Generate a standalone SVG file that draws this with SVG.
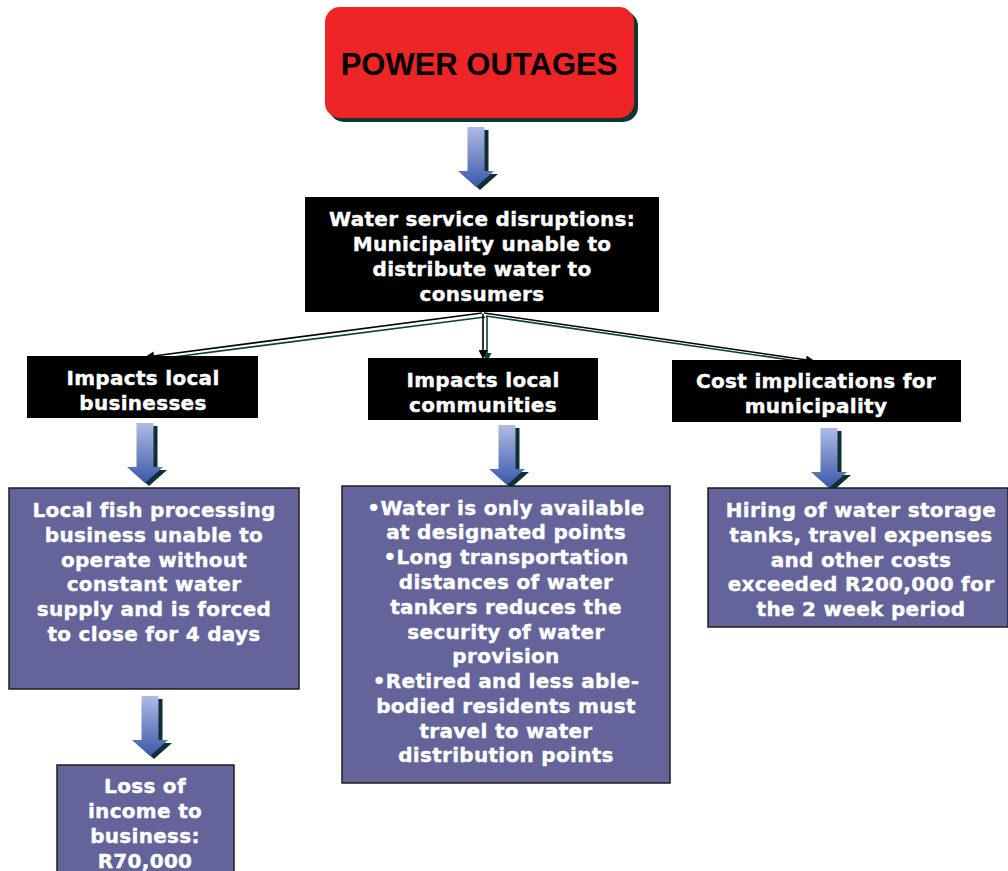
<svg xmlns="http://www.w3.org/2000/svg" xmlns:xlink="http://www.w3.org/1999/xlink" width="1008" height="871" viewBox="0 0 1008 871">
  <style>
    .t { font-family: "DejaVu Sans", Verdana, sans-serif; font-weight: bold; font-size: 20px; letter-spacing: 0.3px; fill: #ffffff; stroke: #ffffff; stroke-width: 0.4px; text-anchor: middle; }
    .blackbox { fill: #000000; }
    .purplebox { fill: #64649a; stroke: #1e1e1e; stroke-width: 1.5; }
    .ln { fill: none; stroke: #000000; stroke-width: 1.6; }
    .lns { fill: none; stroke: #0f3d3d; stroke-width: 1.6; }
  </style>
  <defs>
    <linearGradient id="arrowFill" x1="0" y1="0" x2="0" y2="1">
      <stop offset="0" stop-color="#aebbe4"/>
      <stop offset="1" stop-color="#3c58ab"/>
    </linearGradient>
    <g id="blockArrow">
      <path d="M-8.5,0 H8.5 V44 H18 L0,60 L-18,44 H-8.5 Z" fill="#0f3030" transform="translate(4,3)"/>
      <path d="M-8.5,0 H8.5 V44 H18 L0,60 L-18,44 H-8.5 Z" fill="url(#arrowFill)"/>
    </g>
    <marker id="headBlack" viewBox="0 0 10 10" refX="9" refY="5" markerWidth="10" markerHeight="9" markerUnits="userSpaceOnUse" orient="auto">
      <path d="M0,0 L10,5 L0,10 Z" fill="#000000"/>
    </marker>
    <marker id="headTeal" viewBox="0 0 10 10" refX="9" refY="5" markerWidth="10" markerHeight="9" markerUnits="userSpaceOnUse" orient="auto">
      <path d="M0,0 L10,5 L0,10 Z" fill="#0f3d3d"/>
    </marker>
  </defs>

  <rect width="1008" height="871" fill="#ffffff"/>

  <!-- top node -->
  <g id="power-outages">
    <rect x="329" y="11" width="309" height="111" rx="15" fill="#0f3535"/>
    <rect x="325" y="7" width="309" height="111" rx="15" fill="#ee2426"/>
    <text x="479" y="75" font-family="'Liberation Sans', Arial, sans-serif" font-weight="bold" font-size="31" text-anchor="middle" fill="#000000">POWER OUTAGES</text>
  </g>

  <!-- block arrows -->
  <g id="block-arrows">
    <use xlink:href="#blockArrow" transform="translate(476,127)"/>
    <use xlink:href="#blockArrow" transform="translate(145,423)"/>
    <use xlink:href="#blockArrow" transform="translate(507,425)"/>
    <use xlink:href="#blockArrow" transform="translate(829,428)"/>
    <use xlink:href="#blockArrow" transform="translate(150,696)"/>
  </g>

  <g id="water-disruptions">
    <rect class="blackbox" x="305" y="197" width="354" height="115"/>
    <text class="t"><tspan x="482" y="226">Water service disruptions:</tspan><tspan x="482" y="251">Municipality unable to</tspan><tspan x="482" y="276">distribute water to</tspan><tspan x="482" y="301">consumers</tspan></text>
  </g>

  <!-- connectors from the disruption box -->
  <g id="connectors">
    <line class="lns" x1="485" y1="317" x2="150" y2="360" marker-end="url(#headTeal)"/>
    <line class="ln" x1="482" y1="313" x2="146" y2="357" marker-end="url(#headBlack)"/>
    <line class="lns" x1="487" y1="316" x2="487" y2="361" marker-end="url(#headTeal)"/>
    <line class="ln" x1="483" y1="314" x2="483" y2="358" marker-end="url(#headBlack)"/>
    <line class="lns" x1="486" y1="316" x2="818" y2="364" marker-end="url(#headTeal)"/>
    <line class="ln" x1="484" y1="313" x2="814" y2="361" marker-end="url(#headBlack)"/>
  </g>

  <g id="impacts-businesses">
    <rect class="blackbox" x="27" y="356" width="231" height="62"/>
    <text class="t"><tspan x="143" y="385">Impacts local</tspan><tspan x="143" y="410">businesses</tspan></text>
  </g>

  <g id="impacts-communities">
    <rect class="blackbox" x="368" y="358" width="230" height="62"/>
    <text class="t"><tspan x="483" y="387">Impacts local</tspan><tspan x="483" y="412">communities</tspan></text>
  </g>

  <g id="cost-implications">
    <rect class="blackbox" x="672" y="360" width="289" height="62"/>
    <text class="t"><tspan x="816" y="388">Cost implications for</tspan><tspan x="816" y="413">municipality</tspan></text>
  </g>

  <g id="fish-business">
    <rect class="purplebox" x="9" y="488" width="290" height="201"/>
    <text class="t"><tspan x="154" y="517">Local fish processing</tspan><tspan x="154" y="542">business unable to</tspan><tspan x="154" y="567">operate without</tspan><tspan x="154" y="591">constant water</tspan><tspan x="154" y="616">supply and is forced</tspan><tspan x="154" y="641">to close for 4 days</tspan></text>
  </g>

  <g id="community-impacts">
    <rect class="purplebox" x="342" y="486" width="328" height="297"/>
    <text class="t"><tspan x="506" y="515">•Water is only available</tspan><tspan x="506" y="539">at designated points</tspan><tspan x="506" y="564">•Long transportation</tspan><tspan x="506" y="589">distances of water</tspan><tspan x="506" y="614">tankers reduces the</tspan><tspan x="506" y="639">security of water</tspan><tspan x="506" y="663">provision</tspan><tspan x="506" y="688">•Retired and less able-</tspan><tspan x="506" y="713">bodied residents must</tspan><tspan x="506" y="738">travel to water</tspan><tspan x="506" y="762">distribution points</tspan></text>
  </g>

  <g id="municipal-costs">
    <rect class="purplebox" x="708" y="488" width="300" height="139"/>
    <text class="t"><tspan x="861" y="517">Hiring of water storage</tspan><tspan x="861" y="542">tanks, travel expenses</tspan><tspan x="861" y="567">and other costs</tspan><tspan x="861" y="591">exceeded R200,000 for</tspan><tspan x="861" y="616">the 2 week period</tspan></text>
  </g>

  <g id="income-loss">
    <rect class="purplebox" x="57" y="765" width="177" height="120"/>
    <text class="t"><tspan x="145" y="793">Loss of</tspan><tspan x="145" y="818">income to</tspan><tspan x="145" y="843">business:</tspan><tspan x="145" y="868">R70,000</tspan></text>
  </g>
</svg>
